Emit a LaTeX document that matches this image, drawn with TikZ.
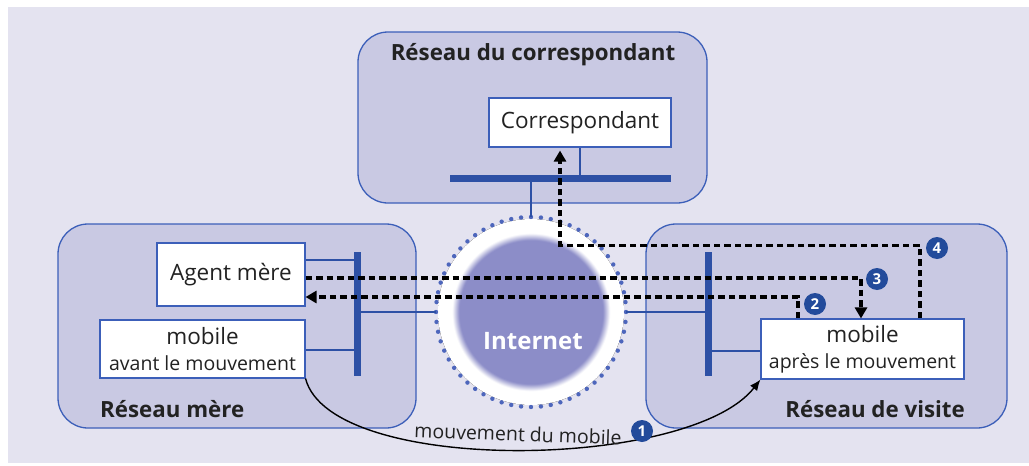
\documentclass[tikz,border=0pt]{standalone}
\usepackage{fontspec}
\setmainfont{Open Sans}
\usetikzlibrary{arrows.meta,calc}

\definecolor{bgcol}{HTML}{E4E3F0}
\definecolor{netfill}{HTML}{C9C9E3}
\definecolor{netline}{HTML}{3C5FB9}
\definecolor{buscol}{HTML}{2D50A5}
\definecolor{inetcol}{RGB}{140,141,200}
\definecolor{ringcol}{HTML}{4D66BC}
\definecolor{numcol}{HTML}{234B9B}
\definecolor{txtcol}{HTML}{222222}

% soft-edged disk for the Internet cloud, fading into a white halo
% (the path's bounding box maps onto the inner 25bp radius)
\pgfdeclareradialshading{inetshade}{\pgfpoint{0bp}{0bp}}{%
  color(0bp)=(inetcol); color(19.3bp)=(inetcol); color(21.2bp)=(white); color(50bp)=(white)}

\tikzset{
  netbox/.style={draw=netline, line width=1.3pt, fill=netfill, rounded corners=30pt, inner sep=0pt},
  nettitle/.style={font=\fontsize{22.3}{25}\bfseries\selectfont, text=txtcol, inner sep=0pt},
  host/.style={draw=netline, line width=1.1pt, fill=white, inner sep=0pt, text=txtcol,
               font=\fontsize{22.5}{27}\selectfont, align=center},
  bus/.style={draw=buscol, line width=7pt, line cap=butt},
  link/.style={draw=buscol, line width=2.6pt},
  msg/.style={draw=black, line width=3.3pt, dash pattern=on 6.5pt off 4pt,
              -{Triangle[length=11pt,width=12pt]}},
  num/.style={circle, fill=numcol, text=white, inner sep=0pt, minimum size=22pt,
              font=\fontsize{15}{15}\bfseries\selectfont},
  move/.style={draw=black, line width=1.4pt, -{Latex[length=11pt,width=9pt]}},
}

\begin{document}
\begin{tikzpicture}[x=1pt,y=-1pt]
\useasboundingbox (0,0) rectangle (1029,466);
\fill[white] (0,0) rectangle (1029,466);
\fill[bgcol] (8,7) rectangle (1029,463);

% the three networks
\node[netbox, minimum width=349pt, minimum height=171pt] (corrnet) at (532.5,117.5) {};
\node[netbox, minimum width=358pt, minimum height=204pt] (mernet) at (237,326) {};
\node[netbox, minimum width=361pt, minimum height=204pt] (visnet) at (826.5,326) {};

\node[nettitle] (corrtitle) at (533,55) {Réseau du correspondant};
\node[nettitle, anchor=west] (mertitle) at (100,409) {Réseau mère};
\node[nettitle, anchor=east] (vistitle) at (965,409) {Réseau de visite};

% Internet: shaded disk inside a ring of dots
\fill[shading=inetshade] (531,312) circle (93pt);
\node[circle, minimum size=190pt, inner sep=0pt] (ring) at (531,312) {};
\foreach \a in {0,6,...,354}
  \fill[ringcol] ($(ring.center)+(\a:95pt)$) circle (2.2pt);
\node[font=\fontsize{24}{24}\bfseries\selectfont, text=white, inner sep=0pt] (inetlabel) at (533,341) {Internet};

% hosts
\node[host, minimum width=182pt, minimum height=49pt] (corr) at (580,122.5) {Correspondant};
\node[host, minimum width=148pt, minimum height=63pt] (agent) at (231,274.5) {Agent mère};
\node[host, minimum width=205pt, minimum height=58pt] (avant) at (202.5,349)
  {mobile\\[-1pt]{\fontsize{19.5}{27}\selectfont avant le mouvement}};
\node[host, minimum width=203pt, minimum height=60pt] (apres) at (862.5,349)
  {mobile\\[-1pt]{\fontsize{19.5}{27}\selectfont après le mouvement}};

% buses
\draw[bus] (450,178) coordinate (tbusW) -- (671,178) coordinate (tbusE);
\draw[bus] (357,252) coordinate (lbusN) -- (357,376) coordinate (lbusS);
\draw[bus] (708,252) coordinate (rbusN) -- (708,376) coordinate (rbusS);

% attachments
\draw[link] (corr.south) -- (corr.south |- tbusW);
\draw[link] (ring.north) -- (ring.north |- tbusW);
\draw[link] (ring.west) -- (ring.west -| lbusN);
\draw[link] (ring.east) -- (ring.east -| rbusN);
\draw[link] ([yshift=14.5pt]agent.east) -- ([yshift=14.5pt]agent.east -| lbusN);
\draw[link] ([yshift=-1pt]avant.east) -- ([yshift=-1pt]avant.east -| lbusN);
\draw[link] ([yshift=-2pt]apres.west) -- ([yshift=-2pt]apres.west -| rbusN);

% message exchanges
\draw[msg] ([yshift=-3.5pt]agent.east) -| ([xshift=-1.5pt]apres.north);
\draw[msg] ([xshift=-64.5pt]apres.north) |- ([yshift=-22.5pt]agent.east);
\draw[msg, shorten >=3pt] ([xshift=57.5pt]apres.north) -- ++(0,-73) -| ([xshift=-20pt]corr.south);

% movement of the mobile
\draw[move] (avant.south east) .. controls +(25,97) and +(-71,91) .. (apres.south west);
\node[rotate=-2, font=\fontsize{19.5}{22}\selectfont, text=txtcol, inner sep=0pt] (movelabel)
  at (518,434) {mouvement du mobile};

% step numbers
\node[num] (n1) at (642,431) {1};
\node[num] (n2) at (815,304) {2};
\node[num] (n3) at (877,279) {3};
\node[num] (n4) at (937,248) {4};
\end{tikzpicture}
\end{document}
